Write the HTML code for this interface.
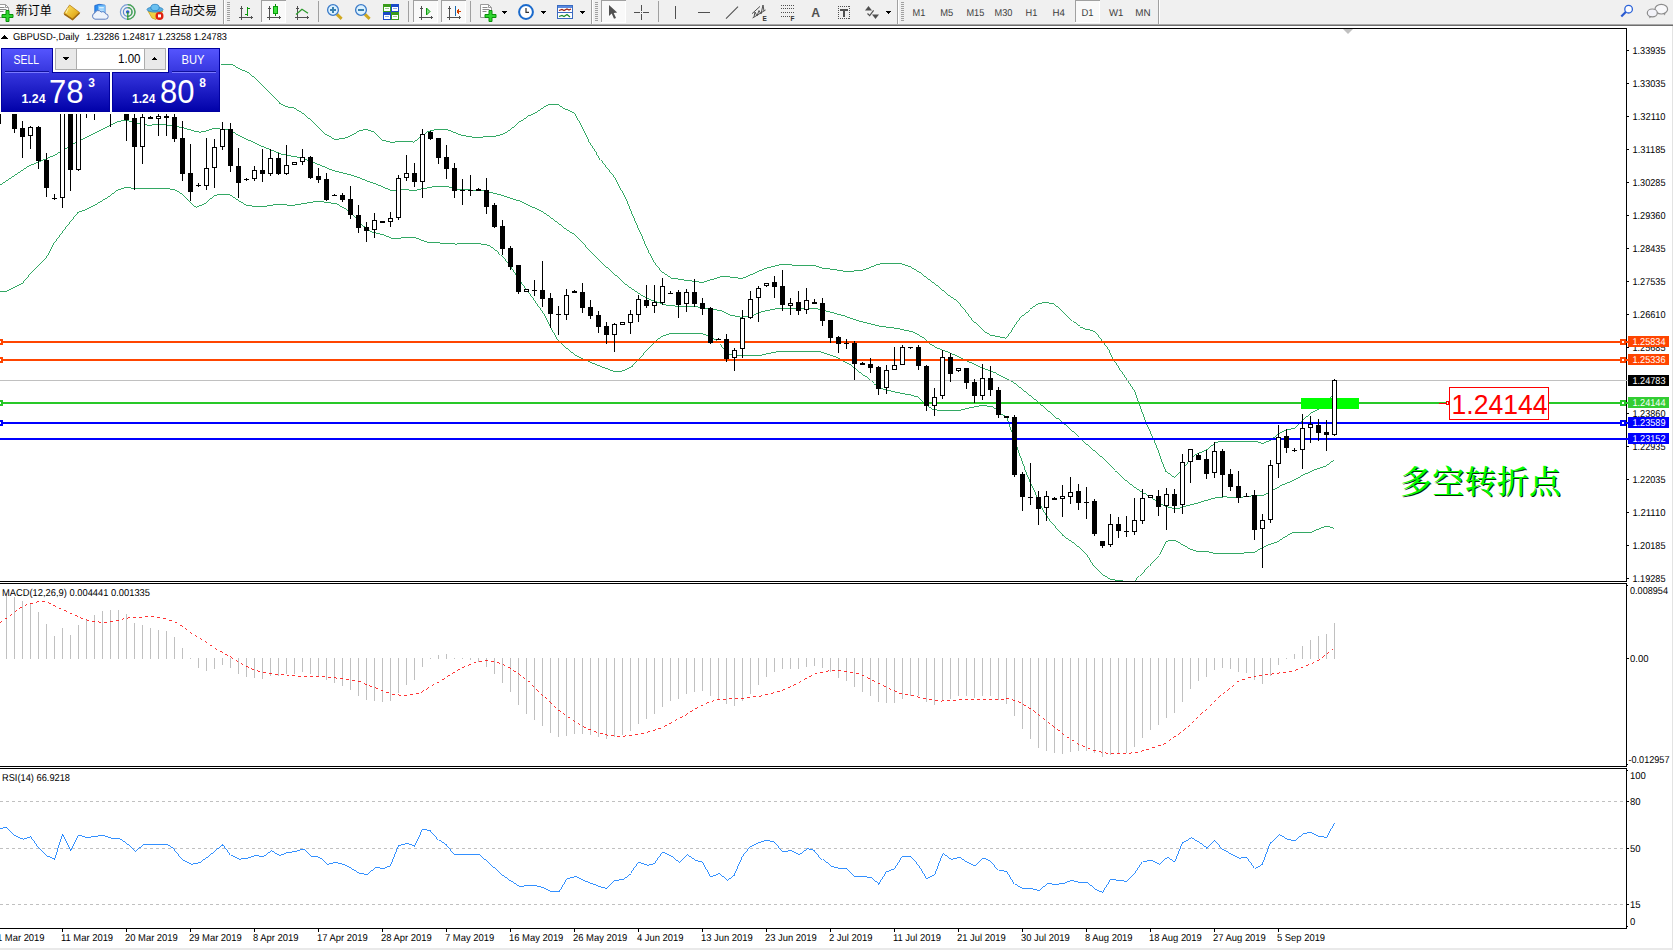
<!DOCTYPE html>
<html lang="zh"><head><meta charset="utf-8"><title>GBPUSD-,Daily</title>
<style>html,body{margin:0;padding:0;background:#fff;overflow:hidden}body{width:1673px;height:950px;position:relative;font-family:"Liberation Sans", "Noto Sans CJK SC", sans-serif}svg{position:absolute;left:0;top:0;display:block}text{font-family:"Liberation Sans", "Noto Sans CJK SC", sans-serif}.c{shape-rendering:crispEdges}.ax{font-size:10px;fill:#000;text-rendering:geometricPrecision}.tb{font-size:10px;fill:#3c3c3c;text-rendering:geometricPrecision}</style></head><body>
<svg width="1673" height="950" viewBox="0 0 1673 950">
<defs>
<linearGradient id="pg" x1="0" y1="48" x2="0" y2="112" gradientUnits="userSpaceOnUse"><stop offset="0" stop-color="#5656ff"/><stop offset="0.38" stop-color="#3636de"/><stop offset="1" stop-color="#0000a8"/></linearGradient>
<clipPath id="cm"><rect x="0" y="29" width="1626" height="552"/></clipPath>
<clipPath id="cd"><rect x="0" y="929" width="1672" height="19"/></clipPath>
</defs>
<rect width="1673" height="950" fill="#fff"/>
<g class="c" clip-path="url(#cm)">
<polyline fill="none" stroke="#00923d" stroke-width="0.8"  points="220.0,64.0 231.0,64.0 240.0,69.0 249.0,73.0 257.0,80.0 266.0,89.0 275.0,98.0 280.0,103.5 287.5,107.0 295.0,108.5 303.0,113.5 312.0,121.0 319.0,128.0 326.0,134.5 335.0,139.5 343.5,138.3 352.0,135.0 359.0,131.0 366.0,129.3 374.0,131.8 382.0,140.0 391.0,142.3 407.0,141.0 414.0,142.2 421.0,136.5 428.0,131.5 436.6,129.3 448.0,129.8 461.0,135.1 475.3,137.5 490.0,136.6 496.0,136.0 502.6,134.3 509.4,130.5 515.3,125.5 519.5,121.4 527.1,116.6 536.3,112.4 543.9,107.1 549.8,104.4 558.2,104.4 564.1,108.6 573.4,112.4 575.5,114.5 579.3,121.3 584.4,132.2 589.4,142.3 596.2,152.5 600.8,159.9 614.5,177.4 626.0,199.0 636.0,223.3 642.0,236.0 644.2,241.7 649.3,253.2 655.0,263.3 662.0,272.0 671.0,278.0 684.0,280.0 694.0,281.2 702.0,282.6 711.0,279.8 722.0,276.5 732.0,277.1 742.0,278.5 750.7,274.9 765.0,268.5 779.4,264.9 813.8,265.2 822.4,268.0 836.8,269.9 846.8,271.8 864.0,269.9 877.0,264.6 885.6,263.1 899.9,263.4 908.5,266.3 922.9,274.9 937.2,285.7 950.0,296.3 957.1,300.9 965.3,310.6 974.5,322.9 982.7,330.5 990.8,335.3 999.0,336.7 1006.2,338.4 1011.3,331.1 1016.4,322.9 1022.5,315.2 1029.6,309.6 1037.8,304.0 1045.0,302.3 1053.1,303.7 1060.3,309.1 1067.4,316.2 1072.5,321.4 1079.7,326.8 1086.8,329.5 1092.9,330.5 1097.0,334.1 1103.2,342.3 1109.3,350.5 1114.4,360.7 1119.5,368.8 1126.3,378.7 1135.0,391.6 1139.3,404.6 1146.4,423.2 1154.0,440.4 1156.4,446.0 1160.7,457.5 1166.4,471.8 1174.3,477.3 1179.3,472.5 1186.5,464.7 1190.0,458.4 1197.2,453.6 1205.6,450.6 1215.8,442.4 1221.2,441.4 1256.0,441.4 1262.6,443.6 1270.4,440.4 1278.8,433.8 1286.0,430.2 1294.4,428.2 1304.0,419.0 1311.6,412.5 1319.2,408.9 1331.8,396.1 1334.0,395.0"/>
<polyline fill="none" stroke="#00923d" stroke-width="0.8"  points="0.0,185.0 29.0,166.0 55.0,155.0 75.0,143.0 110.0,125.6 118.0,121.5 126.0,120.2 138.7,123.5 148.4,125.3 159.5,124.4 173.4,125.8 184.4,128.1 196.0,131.6 200.0,132.2 207.0,130.7 213.6,128.3 222.0,129.3 230.0,130.0 237.6,135.0 260.6,145.7 282.0,154.3 302.0,157.9 315.0,163.0 333.7,170.8 353.8,175.8 372.5,183.0 389.7,190.2 397.0,190.2 402.6,189.2 414.0,190.6 425.5,188.0 436.0,186.0 446.7,186.3 456.7,189.2 485.4,191.0 499.7,194.6 519.8,201.1 542.8,211.8 557.1,222.2 567.2,230.2 574.3,234.1 583.0,242.7 587.6,248.9 599.0,260.4 612.0,271.9 626.3,284.8 640.7,294.8 652.1,300.3 666.5,305.3 680.8,306.6 698.0,307.0 712.4,309.2 722.0,310.8 730.6,315.1 740.7,317.2 750.7,316.5 762.2,311.5 779.4,308.2 815.3,308.2 828.2,311.5 844.0,315.8 858.3,320.8 879.8,326.3 897.0,328.3 912.8,332.0 922.9,337.3 930.0,343.8 937.2,348.1 949.9,352.9 964.2,359.4 978.6,366.5 994.3,372.3 1014.4,383.0 1036.0,400.3 1057.5,418.9 1079.0,437.6 1100.5,456.2 1114.8,470.4 1129.1,483.3 1143.5,493.3 1157.8,502.7 1169.3,507.7 1176.5,508.7 1186.5,505.5 1200.9,502.0 1215.2,497.9 1223.8,496.9 1240.4,497.4 1253.6,495.6 1263.2,495.3 1274.0,489.6 1282.4,484.8 1292.0,481.2 1304.0,474.6 1316.0,469.2 1325.6,466.2 1334.0,460.2"/>
<polyline fill="none" stroke="#00923d" stroke-width="0.8"  points="0.0,291.6 6.6,291.4 22.8,283.0 26.4,278.2 42.0,262.0 48.0,255.4 54.0,243.4 62.4,232.0 72.0,220.0 78.0,212.4 84.0,210.4 96.0,204.4 108.0,197.2 117.6,190.0 126.0,187.4 135.0,188.5 150.0,188.3 168.0,188.5 175.2,190.0 182.4,194.2 187.2,199.6 192.0,203.8 196.0,207.4 206.0,203.1 214.6,195.2 229.0,194.2 237.6,199.8 246.2,205.3 260.6,207.0 276.3,204.5 293.6,205.3 318.0,201.2 336.6,203.8 348.0,210.3 355.2,216.7 362.4,225.3 372.5,232.5 382.5,234.7 391.1,238.5 414.0,237.3 428.4,242.6 442.3,243.1 456.7,244.1 463.9,243.1 482.5,244.1 490.0,246.0 498.6,252.5 507.2,261.8 521.6,283.3 531.6,296.3 544.5,314.9 551.7,329.3 557.4,339.3 564.6,346.5 576.1,355.8 590.4,362.3 604.8,368.0 614.8,371.6 623.4,370.9 632.0,366.6 639.2,358.7 647.8,349.3 656.4,340.4 662.2,336.4 669.3,333.8 702.3,333.6 709.5,336.4 719.6,343.6 722.0,346.6 727.7,353.8 736.3,355.5 759.3,355.5 779.4,351.2 819.6,351.7 836.8,357.4 851.1,365.3 865.5,376.8 874.1,383.9 879.8,388.3 894.2,391.8 908.5,394.7 918.3,397.4 924.0,403.1 932.7,409.6 942.7,410.6 960.0,410.3 971.4,407.4 982.9,405.3 991.5,406.7 1000.0,413.2 1007.3,417.5 1011.6,430.4 1017.3,448.3 1024.4,467.5 1033.0,487.6 1041.6,507.7 1048.8,519.2 1063.1,535.7 1074.6,543.6 1086.1,553.6 1093.4,565.7 1103.1,575.1 1109.0,578.3 1110.7,579.5 1115.0,579.5 1115.3,580.5 1122.8,580.5 1123.0,583.0 1134.5,583.0 1134.9,580.8 1139.2,575.9 1144.5,570.5 1148.9,565.7 1157.5,556.5 1159.3,555.0 1166.4,541.4 1173.6,540.0 1180.8,543.6 1190.0,549.0 1197.2,551.4 1208.0,551.6 1214.0,553.4 1241.6,553.2 1254.8,552.0 1262.0,547.8 1268.0,544.8 1277.6,541.8 1286.0,536.4 1293.2,532.4 1311.2,532.2 1319.6,528.6 1326.8,526.0 1334.0,528.4"/>
<rect x="0" y="380" width="1626" height="1" fill="#c0c0c0"/>
<rect x="0" y="341" width="1627" height="2" fill="#ff4500"/><rect x="-3" y="339" width="6" height="6" fill="#ff4500"/><rect x="-1" y="341" width="2" height="2" fill="#fff"/><rect x="1620" y="339" width="6" height="6" fill="#ff4500"/><rect x="1622" y="341" width="2" height="2" fill="#fff"/>
<rect x="0" y="359" width="1627" height="2" fill="#ff4500"/><rect x="-3" y="357" width="6" height="6" fill="#ff4500"/><rect x="-1" y="359" width="2" height="2" fill="#fff"/><rect x="1620" y="357" width="6" height="6" fill="#ff4500"/><rect x="1622" y="359" width="2" height="2" fill="#fff"/>
<rect x="0" y="402" width="1627" height="2" fill="#28c828"/><rect x="-3" y="400" width="6" height="6" fill="#28c828"/><rect x="-1" y="402" width="2" height="2" fill="#fff"/><rect x="1620" y="400" width="6" height="6" fill="#28c828"/><rect x="1622" y="402" width="2" height="2" fill="#fff"/>
<rect x="0" y="422" width="1627" height="2" fill="#0000ff"/><rect x="-3" y="420" width="6" height="6" fill="#0000ff"/><rect x="-1" y="422" width="2" height="2" fill="#fff"/><rect x="1620" y="420" width="6" height="6" fill="#0000ff"/><rect x="1622" y="422" width="2" height="2" fill="#fff"/>
<rect x="0" y="438" width="1627" height="2" fill="#0000ff"/>
<rect x="1301" y="398" width="58" height="11" fill="#00ff00"/>
<rect x="-2" y="100" width="1" height="24" fill="#000"/>
<rect x="-4" y="100" width="5" height="24" fill="#000"/>
<rect x="14" y="100" width="1" height="33" fill="#000"/>
<rect x="12" y="100" width="5" height="29" fill="#000"/>
<rect x="22" y="121" width="1" height="37" fill="#000"/>
<rect x="20" y="128" width="5" height="9" fill="#000"/>
<rect x="30" y="126" width="1" height="23" fill="#000"/>
<rect x="28.5" y="127.5" width="4" height="8" fill="#fff" stroke="#000" stroke-width="1"/>
<rect x="38" y="126" width="1" height="43" fill="#000"/>
<rect x="36" y="127" width="5" height="34" fill="#000"/>
<rect x="46" y="153" width="1" height="44" fill="#000"/>
<rect x="44" y="160" width="5" height="28" fill="#000"/>
<rect x="54" y="194" width="1" height="6" fill="#000"/>
<rect x="52" y="198" width="5" height="1" fill="#000"/>
<rect x="62" y="100" width="1" height="108" fill="#000"/>
<rect x="60.5" y="100.5" width="4" height="97" fill="#fff" stroke="#000" stroke-width="1"/>
<rect x="70" y="100" width="1" height="91" fill="#000"/>
<rect x="68" y="100" width="5" height="70" fill="#000"/>
<rect x="78" y="100" width="1" height="71" fill="#000"/>
<rect x="76.5" y="100.5" width="4" height="69" fill="#fff" stroke="#000" stroke-width="1"/>
<rect x="86" y="100" width="1" height="18" fill="#000"/>
<rect x="94" y="100" width="1" height="20" fill="#000"/>
<rect x="110" y="100" width="1" height="27" fill="#000"/>
<rect x="126" y="100" width="1" height="41" fill="#000"/>
<rect x="124" y="100" width="5" height="20" fill="#000"/>
<rect x="134" y="100" width="1" height="90" fill="#000"/>
<rect x="132" y="118" width="5" height="29" fill="#000"/>
<rect x="142" y="100" width="1" height="64" fill="#000"/>
<rect x="140.5" y="117.5" width="4" height="29" fill="#fff" stroke="#000" stroke-width="1"/>
<rect x="150" y="116" width="1" height="3" fill="#000"/>
<rect x="148" y="117" width="5" height="2" fill="#000"/>
<rect x="158" y="100" width="1" height="36" fill="#000"/>
<rect x="156.5" y="116.5" width="4" height="2" fill="#fff" stroke="#000" stroke-width="1"/>
<rect x="166" y="100" width="1" height="36" fill="#000"/>
<rect x="164" y="116" width="5" height="2" fill="#000"/>
<rect x="174" y="100" width="1" height="42" fill="#000"/>
<rect x="172" y="117" width="5" height="22" fill="#000"/>
<rect x="182" y="121" width="1" height="60" fill="#000"/>
<rect x="180" y="138" width="5" height="36" fill="#000"/>
<rect x="190" y="144" width="1" height="57" fill="#000"/>
<rect x="188" y="173" width="5" height="19" fill="#000"/>
<rect x="198" y="183" width="1" height="4" fill="#000"/>
<rect x="196" y="185" width="5" height="1" fill="#000"/>
<rect x="206" y="138" width="1" height="52" fill="#000"/>
<rect x="204.5" y="168.5" width="4" height="17" fill="#fff" stroke="#000" stroke-width="1"/>
<rect x="214" y="139" width="1" height="49" fill="#000"/>
<rect x="212.5" y="147.5" width="4" height="20" fill="#fff" stroke="#000" stroke-width="1"/>
<rect x="222" y="122" width="1" height="28" fill="#000"/>
<rect x="220.5" y="129.5" width="4" height="17" fill="#fff" stroke="#000" stroke-width="1"/>
<rect x="230" y="123" width="1" height="49" fill="#000"/>
<rect x="228" y="129" width="5" height="37" fill="#000"/>
<rect x="238" y="148" width="1" height="50" fill="#000"/>
<rect x="236" y="166" width="5" height="17" fill="#000"/>
<rect x="246" y="178" width="1" height="3" fill="#000"/>
<rect x="244" y="179" width="5" height="1" fill="#000"/>
<rect x="254" y="166" width="1" height="15" fill="#000"/>
<rect x="252.5" y="170.5" width="4" height="8" fill="#fff" stroke="#000" stroke-width="1"/>
<rect x="262" y="149" width="1" height="33" fill="#000"/>
<rect x="260" y="170" width="5" height="4" fill="#000"/>
<rect x="270" y="149" width="1" height="27" fill="#000"/>
<rect x="268.5" y="158.5" width="4" height="15" fill="#fff" stroke="#000" stroke-width="1"/>
<rect x="278" y="153" width="1" height="22" fill="#000"/>
<rect x="276" y="158" width="5" height="16" fill="#000"/>
<rect x="286" y="145" width="1" height="30" fill="#000"/>
<rect x="284.5" y="165.5" width="4" height="8" fill="#fff" stroke="#000" stroke-width="1"/>
<rect x="294" y="162" width="1" height="2" fill="#000"/>
<rect x="292.5" y="162.5" width="4" height="2" fill="#fff" stroke="#000" stroke-width="1"/>
<rect x="302" y="149" width="1" height="16" fill="#000"/>
<rect x="300.5" y="157.5" width="4" height="4" fill="#fff" stroke="#000" stroke-width="1"/>
<rect x="310" y="156" width="1" height="23" fill="#000"/>
<rect x="308" y="157" width="5" height="21" fill="#000"/>
<rect x="318" y="168" width="1" height="15" fill="#000"/>
<rect x="316" y="176" width="5" height="4" fill="#000"/>
<rect x="326" y="173" width="1" height="28" fill="#000"/>
<rect x="324" y="179" width="5" height="21" fill="#000"/>
<rect x="334" y="194" width="1" height="1" fill="#000"/>
<rect x="332" y="195" width="5" height="1" fill="#000"/>
<rect x="342" y="193" width="1" height="9" fill="#000"/>
<rect x="340" y="195" width="5" height="5" fill="#000"/>
<rect x="350" y="186" width="1" height="33" fill="#000"/>
<rect x="348" y="199" width="5" height="16" fill="#000"/>
<rect x="358" y="205" width="1" height="28" fill="#000"/>
<rect x="356" y="215" width="5" height="13" fill="#000"/>
<rect x="366" y="222" width="1" height="20" fill="#000"/>
<rect x="364" y="227" width="5" height="4" fill="#000"/>
<rect x="374" y="213" width="1" height="25" fill="#000"/>
<rect x="372.5" y="220.5" width="4" height="9" fill="#fff" stroke="#000" stroke-width="1"/>
<rect x="382" y="221" width="1" height="2" fill="#000"/>
<rect x="380" y="221" width="5" height="2" fill="#000"/>
<rect x="390" y="212" width="1" height="15" fill="#000"/>
<rect x="388.5" y="218.5" width="4" height="3" fill="#fff" stroke="#000" stroke-width="1"/>
<rect x="398" y="175" width="1" height="45" fill="#000"/>
<rect x="396.5" y="178.5" width="4" height="39" fill="#fff" stroke="#000" stroke-width="1"/>
<rect x="406" y="155" width="1" height="26" fill="#000"/>
<rect x="404.5" y="173.5" width="4" height="4" fill="#fff" stroke="#000" stroke-width="1"/>
<rect x="414" y="163" width="1" height="24" fill="#000"/>
<rect x="412" y="173" width="5" height="9" fill="#000"/>
<rect x="422" y="129" width="1" height="69" fill="#000"/>
<rect x="420.5" y="134.5" width="4" height="47" fill="#fff" stroke="#000" stroke-width="1"/>
<rect x="430" y="131" width="1" height="9" fill="#000"/>
<rect x="428" y="132" width="5" height="7" fill="#000"/>
<rect x="438" y="138" width="1" height="26" fill="#000"/>
<rect x="436" y="138" width="5" height="20" fill="#000"/>
<rect x="446" y="145" width="1" height="34" fill="#000"/>
<rect x="444" y="157" width="5" height="12" fill="#000"/>
<rect x="454" y="163" width="1" height="35" fill="#000"/>
<rect x="452" y="168" width="5" height="23" fill="#000"/>
<rect x="462" y="179" width="1" height="26" fill="#000"/>
<rect x="460" y="190" width="5" height="1" fill="#000"/>
<rect x="470" y="175" width="1" height="21" fill="#000"/>
<rect x="468" y="190" width="5" height="1" fill="#000"/>
<rect x="478" y="188" width="1" height="3" fill="#000"/>
<rect x="476" y="189" width="5" height="2" fill="#000"/>
<rect x="486" y="178" width="1" height="36" fill="#000"/>
<rect x="484" y="190" width="5" height="17" fill="#000"/>
<rect x="494" y="203" width="1" height="25" fill="#000"/>
<rect x="492" y="205" width="5" height="22" fill="#000"/>
<rect x="502" y="220" width="1" height="35" fill="#000"/>
<rect x="500" y="226" width="5" height="23" fill="#000"/>
<rect x="510" y="246" width="1" height="24" fill="#000"/>
<rect x="508" y="248" width="5" height="19" fill="#000"/>
<rect x="518" y="265" width="1" height="29" fill="#000"/>
<rect x="516" y="265" width="5" height="27" fill="#000"/>
<rect x="526" y="289" width="1" height="3" fill="#000"/>
<rect x="524.5" y="289.5" width="4" height="2" fill="#fff" stroke="#000" stroke-width="1"/>
<rect x="534" y="280" width="1" height="16" fill="#000"/>
<rect x="532" y="290" width="5" height="1" fill="#000"/>
<rect x="542" y="261" width="1" height="46" fill="#000"/>
<rect x="540" y="290" width="5" height="9" fill="#000"/>
<rect x="550" y="293" width="1" height="35" fill="#000"/>
<rect x="548" y="298" width="5" height="16" fill="#000"/>
<rect x="558" y="306" width="1" height="29" fill="#000"/>
<rect x="556" y="314" width="5" height="1" fill="#000"/>
<rect x="566" y="289" width="1" height="31" fill="#000"/>
<rect x="564.5" y="295.5" width="4" height="19" fill="#fff" stroke="#000" stroke-width="1"/>
<rect x="574" y="290" width="1" height="3" fill="#000"/>
<rect x="572" y="291" width="5" height="2" fill="#000"/>
<rect x="582" y="283" width="1" height="30" fill="#000"/>
<rect x="580" y="292" width="5" height="16" fill="#000"/>
<rect x="590" y="300" width="1" height="19" fill="#000"/>
<rect x="588" y="307" width="5" height="9" fill="#000"/>
<rect x="598" y="311" width="1" height="22" fill="#000"/>
<rect x="596" y="315" width="5" height="12" fill="#000"/>
<rect x="606" y="322" width="1" height="22" fill="#000"/>
<rect x="604" y="326" width="5" height="9" fill="#000"/>
<rect x="614" y="323" width="1" height="29" fill="#000"/>
<rect x="612.5" y="324.5" width="4" height="10" fill="#fff" stroke="#000" stroke-width="1"/>
<rect x="622" y="322" width="1" height="2" fill="#000"/>
<rect x="620.5" y="322.5" width="4" height="2" fill="#fff" stroke="#000" stroke-width="1"/>
<rect x="630" y="310" width="1" height="24" fill="#000"/>
<rect x="628.5" y="314.5" width="4" height="8" fill="#fff" stroke="#000" stroke-width="1"/>
<rect x="638" y="295" width="1" height="27" fill="#000"/>
<rect x="636.5" y="299.5" width="4" height="15" fill="#fff" stroke="#000" stroke-width="1"/>
<rect x="646" y="285" width="1" height="23" fill="#000"/>
<rect x="644" y="300" width="5" height="6" fill="#000"/>
<rect x="654" y="285" width="1" height="28" fill="#000"/>
<rect x="652.5" y="302.5" width="4" height="3" fill="#fff" stroke="#000" stroke-width="1"/>
<rect x="662" y="278" width="1" height="27" fill="#000"/>
<rect x="660.5" y="286.5" width="4" height="16" fill="#fff" stroke="#000" stroke-width="1"/>
<rect x="670" y="291" width="1" height="3" fill="#000"/>
<rect x="668" y="293" width="5" height="1" fill="#000"/>
<rect x="678" y="290" width="1" height="28" fill="#000"/>
<rect x="676" y="292" width="5" height="13" fill="#000"/>
<rect x="686" y="289" width="1" height="23" fill="#000"/>
<rect x="684.5" y="292.5" width="4" height="11" fill="#fff" stroke="#000" stroke-width="1"/>
<rect x="694" y="279" width="1" height="28" fill="#000"/>
<rect x="692" y="292" width="5" height="12" fill="#000"/>
<rect x="702" y="298" width="1" height="17" fill="#000"/>
<rect x="700" y="303" width="5" height="6" fill="#000"/>
<rect x="710" y="307" width="1" height="37" fill="#000"/>
<rect x="708" y="308" width="5" height="35" fill="#000"/>
<rect x="718" y="338" width="1" height="1" fill="#000"/>
<rect x="716" y="339" width="5" height="1" fill="#000"/>
<rect x="726" y="334" width="1" height="28" fill="#000"/>
<rect x="724" y="339" width="5" height="20" fill="#000"/>
<rect x="734" y="348" width="1" height="23" fill="#000"/>
<rect x="732.5" y="350.5" width="4" height="7" fill="#fff" stroke="#000" stroke-width="1"/>
<rect x="742" y="310" width="1" height="48" fill="#000"/>
<rect x="740.5" y="318.5" width="4" height="30" fill="#fff" stroke="#000" stroke-width="1"/>
<rect x="750" y="291" width="1" height="28" fill="#000"/>
<rect x="748.5" y="299.5" width="4" height="18" fill="#fff" stroke="#000" stroke-width="1"/>
<rect x="758" y="286" width="1" height="36" fill="#000"/>
<rect x="756.5" y="288.5" width="4" height="9" fill="#fff" stroke="#000" stroke-width="1"/>
<rect x="766" y="283" width="1" height="4" fill="#000"/>
<rect x="764.5" y="283.5" width="4" height="2" fill="#fff" stroke="#000" stroke-width="1"/>
<rect x="774" y="276" width="1" height="22" fill="#000"/>
<rect x="772" y="282" width="5" height="5" fill="#000"/>
<rect x="782" y="270" width="1" height="41" fill="#000"/>
<rect x="780" y="286" width="5" height="19" fill="#000"/>
<rect x="790" y="298" width="1" height="17" fill="#000"/>
<rect x="788.5" y="303.5" width="4" height="2" fill="#fff" stroke="#000" stroke-width="1"/>
<rect x="798" y="291" width="1" height="24" fill="#000"/>
<rect x="796" y="302" width="5" height="9" fill="#000"/>
<rect x="806" y="288" width="1" height="26" fill="#000"/>
<rect x="804.5" y="300.5" width="4" height="9" fill="#fff" stroke="#000" stroke-width="1"/>
<rect x="814" y="299" width="1" height="5" fill="#000"/>
<rect x="812" y="302" width="5" height="2" fill="#000"/>
<rect x="822" y="298" width="1" height="28" fill="#000"/>
<rect x="820" y="303" width="5" height="18" fill="#000"/>
<rect x="830" y="320" width="1" height="23" fill="#000"/>
<rect x="828" y="320" width="5" height="18" fill="#000"/>
<rect x="838" y="336" width="1" height="17" fill="#000"/>
<rect x="836" y="337" width="5" height="7" fill="#000"/>
<rect x="846" y="339" width="1" height="10" fill="#000"/>
<rect x="844" y="343" width="5" height="1" fill="#000"/>
<rect x="854" y="341" width="1" height="39" fill="#000"/>
<rect x="852" y="343" width="5" height="21" fill="#000"/>
<rect x="862" y="362" width="1" height="3" fill="#000"/>
<rect x="860" y="363" width="5" height="2" fill="#000"/>
<rect x="870" y="358" width="1" height="15" fill="#000"/>
<rect x="868" y="364" width="5" height="4" fill="#000"/>
<rect x="878" y="366" width="1" height="29" fill="#000"/>
<rect x="876" y="367" width="5" height="22" fill="#000"/>
<rect x="886" y="365" width="1" height="29" fill="#000"/>
<rect x="884.5" y="370.5" width="4" height="17" fill="#fff" stroke="#000" stroke-width="1"/>
<rect x="894" y="347" width="1" height="23" fill="#000"/>
<rect x="892.5" y="365.5" width="4" height="4" fill="#fff" stroke="#000" stroke-width="1"/>
<rect x="902" y="345" width="1" height="20" fill="#000"/>
<rect x="900.5" y="347.5" width="4" height="17" fill="#fff" stroke="#000" stroke-width="1"/>
<rect x="910" y="347" width="1" height="2" fill="#000"/>
<rect x="908" y="347" width="5" height="1" fill="#000"/>
<rect x="918" y="345" width="1" height="25" fill="#000"/>
<rect x="916" y="347" width="5" height="19" fill="#000"/>
<rect x="926" y="365" width="1" height="46" fill="#000"/>
<rect x="924" y="366" width="5" height="40" fill="#000"/>
<rect x="934" y="388" width="1" height="28" fill="#000"/>
<rect x="932.5" y="397.5" width="4" height="8" fill="#fff" stroke="#000" stroke-width="1"/>
<rect x="942" y="350" width="1" height="49" fill="#000"/>
<rect x="940.5" y="357.5" width="4" height="38" fill="#fff" stroke="#000" stroke-width="1"/>
<rect x="950" y="353" width="1" height="29" fill="#000"/>
<rect x="948" y="357" width="5" height="17" fill="#000"/>
<rect x="958" y="368" width="1" height="4" fill="#000"/>
<rect x="956.5" y="368.5" width="4" height="2" fill="#fff" stroke="#000" stroke-width="1"/>
<rect x="966" y="368" width="1" height="21" fill="#000"/>
<rect x="964" y="368" width="5" height="15" fill="#000"/>
<rect x="974" y="379" width="1" height="24" fill="#000"/>
<rect x="972" y="382" width="5" height="14" fill="#000"/>
<rect x="982" y="364" width="1" height="36" fill="#000"/>
<rect x="980.5" y="378.5" width="4" height="17" fill="#fff" stroke="#000" stroke-width="1"/>
<rect x="990" y="366" width="1" height="30" fill="#000"/>
<rect x="988" y="378" width="5" height="12" fill="#000"/>
<rect x="998" y="387" width="1" height="31" fill="#000"/>
<rect x="996" y="390" width="5" height="25" fill="#000"/>
<rect x="1006" y="416" width="1" height="2" fill="#000"/>
<rect x="1004" y="416" width="5" height="2" fill="#000"/>
<rect x="1014" y="415" width="1" height="62" fill="#000"/>
<rect x="1012" y="417" width="5" height="58" fill="#000"/>
<rect x="1022" y="472" width="1" height="39" fill="#000"/>
<rect x="1020" y="474" width="5" height="23" fill="#000"/>
<rect x="1030" y="463" width="1" height="42" fill="#000"/>
<rect x="1028" y="497" width="5" height="1" fill="#000"/>
<rect x="1038" y="491" width="1" height="34" fill="#000"/>
<rect x="1036" y="497" width="5" height="12" fill="#000"/>
<rect x="1046" y="491" width="1" height="30" fill="#000"/>
<rect x="1044.5" y="496.5" width="4" height="11" fill="#fff" stroke="#000" stroke-width="1"/>
<rect x="1054" y="497" width="1" height="3" fill="#000"/>
<rect x="1052" y="498" width="5" height="2" fill="#000"/>
<rect x="1062" y="485" width="1" height="32" fill="#000"/>
<rect x="1060.5" y="496.5" width="4" height="2" fill="#fff" stroke="#000" stroke-width="1"/>
<rect x="1070" y="477" width="1" height="27" fill="#000"/>
<rect x="1068.5" y="492.5" width="4" height="4" fill="#fff" stroke="#000" stroke-width="1"/>
<rect x="1078" y="484" width="1" height="26" fill="#000"/>
<rect x="1076" y="491" width="5" height="12" fill="#000"/>
<rect x="1086" y="487" width="1" height="32" fill="#000"/>
<rect x="1084" y="502" width="5" height="1" fill="#000"/>
<rect x="1094" y="499" width="1" height="37" fill="#000"/>
<rect x="1092" y="501" width="5" height="33" fill="#000"/>
<rect x="1102" y="541" width="1" height="7" fill="#000"/>
<rect x="1100" y="541" width="5" height="5" fill="#000"/>
<rect x="1110" y="514" width="1" height="33" fill="#000"/>
<rect x="1108.5" y="524.5" width="4" height="20" fill="#fff" stroke="#000" stroke-width="1"/>
<rect x="1118" y="517" width="1" height="21" fill="#000"/>
<rect x="1116" y="524" width="5" height="7" fill="#000"/>
<rect x="1126" y="516" width="1" height="21" fill="#000"/>
<rect x="1124" y="531" width="5" height="1" fill="#000"/>
<rect x="1134" y="498" width="1" height="37" fill="#000"/>
<rect x="1132.5" y="520.5" width="4" height="11" fill="#fff" stroke="#000" stroke-width="1"/>
<rect x="1142" y="489" width="1" height="35" fill="#000"/>
<rect x="1140.5" y="498.5" width="4" height="22" fill="#fff" stroke="#000" stroke-width="1"/>
<rect x="1150" y="495" width="1" height="2" fill="#000"/>
<rect x="1148.5" y="495.5" width="4" height="2" fill="#fff" stroke="#000" stroke-width="1"/>
<rect x="1158" y="490" width="1" height="26" fill="#000"/>
<rect x="1156" y="496" width="5" height="11" fill="#000"/>
<rect x="1166" y="488" width="1" height="42" fill="#000"/>
<rect x="1164.5" y="494.5" width="4" height="11" fill="#fff" stroke="#000" stroke-width="1"/>
<rect x="1174" y="489" width="1" height="24" fill="#000"/>
<rect x="1172" y="494" width="5" height="12" fill="#000"/>
<rect x="1182" y="454" width="1" height="60" fill="#000"/>
<rect x="1180.5" y="462.5" width="4" height="42" fill="#fff" stroke="#000" stroke-width="1"/>
<rect x="1190" y="449" width="1" height="34" fill="#000"/>
<rect x="1188.5" y="449.5" width="4" height="12" fill="#fff" stroke="#000" stroke-width="1"/>
<rect x="1198" y="453" width="1" height="7" fill="#000"/>
<rect x="1196" y="455" width="5" height="5" fill="#000"/>
<rect x="1206" y="450" width="1" height="29" fill="#000"/>
<rect x="1204" y="459" width="5" height="15" fill="#000"/>
<rect x="1214" y="442" width="1" height="36" fill="#000"/>
<rect x="1212.5" y="451.5" width="4" height="21" fill="#fff" stroke="#000" stroke-width="1"/>
<rect x="1222" y="449" width="1" height="48" fill="#000"/>
<rect x="1220" y="451" width="5" height="24" fill="#000"/>
<rect x="1230" y="469" width="1" height="22" fill="#000"/>
<rect x="1228" y="474" width="5" height="13" fill="#000"/>
<rect x="1238" y="471" width="1" height="32" fill="#000"/>
<rect x="1236" y="486" width="5" height="12" fill="#000"/>
<rect x="1246" y="493" width="1" height="4" fill="#000"/>
<rect x="1244" y="496" width="5" height="1" fill="#000"/>
<rect x="1254" y="490" width="1" height="50" fill="#000"/>
<rect x="1252" y="495" width="5" height="35" fill="#000"/>
<rect x="1262" y="514" width="1" height="54" fill="#000"/>
<rect x="1260.5" y="520.5" width="4" height="8" fill="#fff" stroke="#000" stroke-width="1"/>
<rect x="1270" y="460" width="1" height="63" fill="#000"/>
<rect x="1268.5" y="465.5" width="4" height="54" fill="#fff" stroke="#000" stroke-width="1"/>
<rect x="1278" y="425" width="1" height="53" fill="#000"/>
<rect x="1276.5" y="437.5" width="4" height="26" fill="#fff" stroke="#000" stroke-width="1"/>
<rect x="1286" y="429" width="1" height="24" fill="#000"/>
<rect x="1284" y="436" width="5" height="12" fill="#000"/>
<rect x="1294" y="448" width="1" height="4" fill="#000"/>
<rect x="1292" y="450" width="5" height="1" fill="#000"/>
<rect x="1302" y="414" width="1" height="55" fill="#000"/>
<rect x="1300.5" y="428.5" width="4" height="21" fill="#fff" stroke="#000" stroke-width="1"/>
<rect x="1310" y="416" width="1" height="27" fill="#000"/>
<rect x="1308.5" y="424.5" width="4" height="3" fill="#fff" stroke="#000" stroke-width="1"/>
<rect x="1318" y="419" width="1" height="22" fill="#000"/>
<rect x="1316" y="425" width="5" height="8" fill="#000"/>
<rect x="1326" y="420" width="1" height="31" fill="#000"/>
<rect x="1324" y="432" width="5" height="3" fill="#000"/>
<rect x="1334" y="379" width="1" height="57" fill="#000"/>
<rect x="1332.5" y="380.5" width="4" height="54" fill="#fff" stroke="#000" stroke-width="1"/>
</g>
<g class="c"><rect x="1439" y="403" width="8" height="1" fill="#f00"/><rect x="1446" y="401" width="3" height="4" fill="#f00"/><rect x="1447" y="402" width="1" height="2" fill="#fff"/><rect x="1449.5" y="387.5" width="99" height="32" fill="#fff" stroke="#f00" stroke-width="1"/></g>
<text x="1451.6" y="414" font-size="27.2px" fill="#f00" textLength="96" lengthAdjust="spacingAndGlyphs">1.24144</text>
<text x="1401" y="493.5" font-size="32px" fill="#0a2a0a" style="font-family:'Noto Serif CJK SC','Noto Sans CJK SC',serif;font-weight:500" textLength="161" lengthAdjust="spacing">多空转折点</text>
<text x="1400" y="492.5" font-size="32px" fill="#00ff00" style="font-family:'Noto Serif CJK SC','Noto Sans CJK SC',serif;font-weight:500" textLength="161" lengthAdjust="spacing">多空转折点</text>
<g class="c" fill="#000">
<rect x="0" y="28" width="1627" height="1"/>
<rect x="1626" y="28" width="1" height="554"/>
<rect x="0" y="581" width="1627" height="1"/>
<rect x="0" y="583" width="1627" height="1"/>
<rect x="1626" y="583" width="1" height="184"/>
<rect x="0" y="766" width="1627" height="1"/>
<rect x="0" y="768" width="1627" height="1"/>
<rect x="1626" y="768" width="1" height="161"/>
<rect x="0" y="928" width="1627" height="1"/>
<rect x="1627" y="50" width="2" height="1"/>
<rect x="1627" y="83" width="2" height="1"/>
<rect x="1627" y="116" width="2" height="1"/>
<rect x="1627" y="149" width="2" height="1"/>
<rect x="1627" y="182" width="2" height="1"/>
<rect x="1627" y="215" width="2" height="1"/>
<rect x="1627" y="248" width="2" height="1"/>
<rect x="1627" y="281" width="2" height="1"/>
<rect x="1627" y="314" width="2" height="1"/>
<rect x="1627" y="347" width="2" height="1"/>
<rect x="1627" y="413" width="2" height="1"/>
<rect x="1627" y="446" width="2" height="1"/>
<rect x="1627" y="479" width="2" height="1"/>
<rect x="1627" y="512" width="2" height="1"/>
<rect x="1627" y="545" width="2" height="1"/>
<rect x="1627" y="578" width="2" height="1"/>
<rect x="1627" y="585" width="1" height="1"/><rect x="1627" y="658" width="2" height="1"/><rect x="1627" y="764" width="1" height="1"/>
<rect x="1627" y="770" width="1" height="1"/><rect x="1627" y="801" width="2" height="1"/><rect x="1627" y="848" width="2" height="1"/><rect x="1627" y="904" width="2" height="1"/><rect x="1627" y="926" width="1" height="1"/>
<rect x="-2" y="929" width="1" height="3"/>
<rect x="62" y="929" width="1" height="3"/>
<rect x="126" y="929" width="1" height="3"/>
<rect x="190" y="929" width="1" height="3"/>
<rect x="254" y="929" width="1" height="3"/>
<rect x="318" y="929" width="1" height="3"/>
<rect x="382" y="929" width="1" height="3"/>
<rect x="446" y="929" width="1" height="3"/>
<rect x="510" y="929" width="1" height="3"/>
<rect x="574" y="929" width="1" height="3"/>
<rect x="638" y="929" width="1" height="3"/>
<rect x="702" y="929" width="1" height="3"/>
<rect x="766" y="929" width="1" height="3"/>
<rect x="830" y="929" width="1" height="3"/>
<rect x="894" y="929" width="1" height="3"/>
<rect x="958" y="929" width="1" height="3"/>
<rect x="1022" y="929" width="1" height="3"/>
<rect x="1086" y="929" width="1" height="3"/>
<rect x="1150" y="929" width="1" height="3"/>
<rect x="1214" y="929" width="1" height="3"/>
<rect x="1278" y="929" width="1" height="3"/>
</g>
<rect class="c" x="1626" y="341" width="2" height="2" fill="#ff4500"/>
<rect class="c" x="1626" y="359" width="2" height="2" fill="#ff4500"/>
<rect class="c" x="1626" y="402" width="2" height="2" fill="#28c828"/>
<rect class="c" x="1626" y="422" width="2" height="2" fill="#0000ff"/>
<rect class="c" x="1626" y="438" width="2" height="2" fill="#0000ff"/>
<rect class="c" x="1626" y="380" width="2" height="1" fill="#c0c0c0"/>
<polygon points="1343,29 1353,29 1348,34" fill="#c0c0c0"/>
<text class="ax" x="1632.5" y="54" textLength="33" lengthAdjust="spacingAndGlyphs">1.33935</text>
<text class="ax" x="1632.5" y="87" textLength="33" lengthAdjust="spacingAndGlyphs">1.33035</text>
<text class="ax" x="1632.5" y="120" textLength="33" lengthAdjust="spacingAndGlyphs">1.32110</text>
<text class="ax" x="1632.5" y="153" textLength="33" lengthAdjust="spacingAndGlyphs">1.31185</text>
<text class="ax" x="1632.5" y="186" textLength="33" lengthAdjust="spacingAndGlyphs">1.30285</text>
<text class="ax" x="1632.5" y="219" textLength="33" lengthAdjust="spacingAndGlyphs">1.29360</text>
<text class="ax" x="1632.5" y="252" textLength="33" lengthAdjust="spacingAndGlyphs">1.28435</text>
<text class="ax" x="1632.5" y="285" textLength="33" lengthAdjust="spacingAndGlyphs">1.27535</text>
<text class="ax" x="1632.5" y="318" textLength="33" lengthAdjust="spacingAndGlyphs">1.26610</text>
<text class="ax" x="1632.5" y="351" textLength="33" lengthAdjust="spacingAndGlyphs">1.25685</text>
<text class="ax" x="1632.5" y="417" textLength="33" lengthAdjust="spacingAndGlyphs">1.23860</text>
<text class="ax" x="1632.5" y="450" textLength="33" lengthAdjust="spacingAndGlyphs">1.22935</text>
<text class="ax" x="1632.5" y="483" textLength="33" lengthAdjust="spacingAndGlyphs">1.22035</text>
<text class="ax" x="1632.5" y="516" textLength="33" lengthAdjust="spacingAndGlyphs">1.21110</text>
<text class="ax" x="1632.5" y="549" textLength="33" lengthAdjust="spacingAndGlyphs">1.20185</text>
<text class="ax" x="1632.5" y="582" textLength="33" lengthAdjust="spacingAndGlyphs">1.19285</text>
<rect class="c" x="1628" y="336" width="41" height="11" fill="#ff4500"/><text class="ax" x="1632.5" y="345" style="fill:#fff" textLength="33" lengthAdjust="spacingAndGlyphs">1.25834</text>
<rect class="c" x="1628" y="354" width="41" height="11" fill="#ff4500"/><text class="ax" x="1632.5" y="363" style="fill:#fff" textLength="33" lengthAdjust="spacingAndGlyphs">1.25336</text>
<rect class="c" x="1628" y="397" width="41" height="11" fill="#32cd32"/><text class="ax" x="1632.5" y="406" style="fill:#fff" textLength="33" lengthAdjust="spacingAndGlyphs">1.24144</text>
<rect class="c" x="1628" y="417" width="41" height="11" fill="#0000ff"/><text class="ax" x="1632.5" y="426" style="fill:#fff" textLength="33" lengthAdjust="spacingAndGlyphs">1.23589</text>
<rect class="c" x="1628" y="433" width="41" height="11" fill="#0000ff"/><text class="ax" x="1632.5" y="442" style="fill:#fff" textLength="33" lengthAdjust="spacingAndGlyphs">1.23152</text>
<rect class="c" x="1628" y="375" width="41" height="11" fill="#000"/><text class="ax" x="1632.5" y="384" style="fill:#fff" textLength="33" lengthAdjust="spacingAndGlyphs">1.24783</text>
<text class="ax" x="1630" y="594" textLength="38" lengthAdjust="spacingAndGlyphs">0.008954</text>
<text class="ax" transform="translate(1630,662) scale(0.95,1)">0.00</text>
<text class="ax" x="1628.5" y="763" textLength="41" lengthAdjust="spacingAndGlyphs">-0.012957</text>
<text class="ax" transform="translate(1630,779) scale(0.95,1)">100</text>
<text class="ax" transform="translate(1630,805) scale(0.95,1)">80</text>
<text class="ax" transform="translate(1630,852) scale(0.95,1)">50</text>
<text class="ax" transform="translate(1630,908) scale(0.95,1)">15</text>
<text class="ax" transform="translate(1630,925) scale(0.95,1)">0</text>
<g class="c">
<rect x="6" y="593" width="1" height="66" fill="#c0c0c0"/>
<rect x="14" y="597" width="1" height="62" fill="#c0c0c0"/>
<rect x="22" y="601" width="1" height="58" fill="#c0c0c0"/>
<rect x="30" y="603" width="1" height="56" fill="#c0c0c0"/>
<rect x="38" y="612" width="1" height="47" fill="#c0c0c0"/>
<rect x="46" y="624" width="1" height="35" fill="#c0c0c0"/>
<rect x="54" y="636" width="1" height="23" fill="#c0c0c0"/>
<rect x="62" y="628" width="1" height="31" fill="#c0c0c0"/>
<rect x="70" y="635" width="1" height="24" fill="#c0c0c0"/>
<rect x="78" y="625" width="1" height="34" fill="#c0c0c0"/>
<rect x="86" y="620" width="1" height="39" fill="#c0c0c0"/>
<rect x="94" y="615" width="1" height="44" fill="#c0c0c0"/>
<rect x="102" y="611" width="1" height="48" fill="#c0c0c0"/>
<rect x="110" y="610" width="1" height="49" fill="#c0c0c0"/>
<rect x="118" y="610" width="1" height="49" fill="#c0c0c0"/>
<rect x="126" y="614" width="1" height="45" fill="#c0c0c0"/>
<rect x="134" y="623" width="1" height="36" fill="#c0c0c0"/>
<rect x="142" y="625" width="1" height="34" fill="#c0c0c0"/>
<rect x="150" y="628" width="1" height="31" fill="#c0c0c0"/>
<rect x="158" y="630" width="1" height="29" fill="#c0c0c0"/>
<rect x="166" y="631" width="1" height="28" fill="#c0c0c0"/>
<rect x="174" y="637" width="1" height="22" fill="#c0c0c0"/>
<rect x="182" y="648" width="1" height="11" fill="#c0c0c0"/>
<rect x="190" y="658" width="1" height="1" fill="#c0c0c0"/>
<rect x="198" y="658" width="1" height="10" fill="#c0c0c0"/>
<rect x="206" y="658" width="1" height="13" fill="#c0c0c0"/>
<rect x="214" y="658" width="1" height="11" fill="#c0c0c0"/>
<rect x="222" y="658" width="1" height="7" fill="#c0c0c0"/>
<rect x="230" y="658" width="1" height="10" fill="#c0c0c0"/>
<rect x="238" y="658" width="1" height="16" fill="#c0c0c0"/>
<rect x="246" y="658" width="1" height="19" fill="#c0c0c0"/>
<rect x="254" y="658" width="1" height="20" fill="#c0c0c0"/>
<rect x="262" y="658" width="1" height="21" fill="#c0c0c0"/>
<rect x="270" y="658" width="1" height="18" fill="#c0c0c0"/>
<rect x="278" y="658" width="1" height="18" fill="#c0c0c0"/>
<rect x="286" y="658" width="1" height="16" fill="#c0c0c0"/>
<rect x="294" y="658" width="1" height="16" fill="#c0c0c0"/>
<rect x="302" y="658" width="1" height="14" fill="#c0c0c0"/>
<rect x="310" y="658" width="1" height="16" fill="#c0c0c0"/>
<rect x="318" y="658" width="1" height="18" fill="#c0c0c0"/>
<rect x="326" y="658" width="1" height="22" fill="#c0c0c0"/>
<rect x="334" y="658" width="1" height="25" fill="#c0c0c0"/>
<rect x="342" y="658" width="1" height="28" fill="#c0c0c0"/>
<rect x="350" y="658" width="1" height="32" fill="#c0c0c0"/>
<rect x="358" y="658" width="1" height="38" fill="#c0c0c0"/>
<rect x="366" y="658" width="1" height="42" fill="#c0c0c0"/>
<rect x="374" y="658" width="1" height="43" fill="#c0c0c0"/>
<rect x="382" y="658" width="1" height="44" fill="#c0c0c0"/>
<rect x="390" y="658" width="1" height="43" fill="#c0c0c0"/>
<rect x="398" y="658" width="1" height="35" fill="#c0c0c0"/>
<rect x="406" y="658" width="1" height="27" fill="#c0c0c0"/>
<rect x="414" y="658" width="1" height="22" fill="#c0c0c0"/>
<rect x="422" y="658" width="1" height="9" fill="#c0c0c0"/>
<rect x="430" y="658" width="1" height="1" fill="#c0c0c0"/>
<rect x="438" y="655" width="1" height="4" fill="#c0c0c0"/>
<rect x="446" y="654" width="1" height="5" fill="#c0c0c0"/>
<rect x="454" y="658" width="1" height="1" fill="#c0c0c0"/>
<rect x="462" y="658" width="1" height="1" fill="#c0c0c0"/>
<rect x="470" y="658" width="1" height="2" fill="#c0c0c0"/>
<rect x="478" y="658" width="1" height="4" fill="#c0c0c0"/>
<rect x="486" y="658" width="1" height="9" fill="#c0c0c0"/>
<rect x="494" y="658" width="1" height="16" fill="#c0c0c0"/>
<rect x="502" y="658" width="1" height="25" fill="#c0c0c0"/>
<rect x="510" y="658" width="1" height="34" fill="#c0c0c0"/>
<rect x="518" y="658" width="1" height="47" fill="#c0c0c0"/>
<rect x="526" y="658" width="1" height="56" fill="#c0c0c0"/>
<rect x="534" y="658" width="1" height="62" fill="#c0c0c0"/>
<rect x="542" y="658" width="1" height="68" fill="#c0c0c0"/>
<rect x="550" y="658" width="1" height="75" fill="#c0c0c0"/>
<rect x="558" y="658" width="1" height="79" fill="#c0c0c0"/>
<rect x="566" y="658" width="1" height="78" fill="#c0c0c0"/>
<rect x="574" y="658" width="1" height="76" fill="#c0c0c0"/>
<rect x="582" y="658" width="1" height="76" fill="#c0c0c0"/>
<rect x="590" y="658" width="1" height="77" fill="#c0c0c0"/>
<rect x="598" y="658" width="1" height="79" fill="#c0c0c0"/>
<rect x="606" y="658" width="1" height="81" fill="#c0c0c0"/>
<rect x="614" y="658" width="1" height="79" fill="#c0c0c0"/>
<rect x="622" y="658" width="1" height="77" fill="#c0c0c0"/>
<rect x="630" y="658" width="1" height="73" fill="#c0c0c0"/>
<rect x="638" y="658" width="1" height="66" fill="#c0c0c0"/>
<rect x="646" y="658" width="1" height="61" fill="#c0c0c0"/>
<rect x="654" y="658" width="1" height="56" fill="#c0c0c0"/>
<rect x="662" y="658" width="1" height="49" fill="#c0c0c0"/>
<rect x="670" y="658" width="1" height="43" fill="#c0c0c0"/>
<rect x="678" y="658" width="1" height="41" fill="#c0c0c0"/>
<rect x="686" y="658" width="1" height="36" fill="#c0c0c0"/>
<rect x="694" y="658" width="1" height="34" fill="#c0c0c0"/>
<rect x="702" y="658" width="1" height="33" fill="#c0c0c0"/>
<rect x="710" y="658" width="1" height="38" fill="#c0c0c0"/>
<rect x="718" y="658" width="1" height="42" fill="#c0c0c0"/>
<rect x="726" y="658" width="1" height="46" fill="#c0c0c0"/>
<rect x="734" y="658" width="1" height="48" fill="#c0c0c0"/>
<rect x="742" y="658" width="1" height="43" fill="#c0c0c0"/>
<rect x="750" y="658" width="1" height="36" fill="#c0c0c0"/>
<rect x="758" y="658" width="1" height="27" fill="#c0c0c0"/>
<rect x="766" y="658" width="1" height="19" fill="#c0c0c0"/>
<rect x="774" y="658" width="1" height="14" fill="#c0c0c0"/>
<rect x="782" y="658" width="1" height="11" fill="#c0c0c0"/>
<rect x="790" y="658" width="1" height="11" fill="#c0c0c0"/>
<rect x="798" y="658" width="1" height="11" fill="#c0c0c0"/>
<rect x="806" y="658" width="1" height="9" fill="#c0c0c0"/>
<rect x="814" y="658" width="1" height="8" fill="#c0c0c0"/>
<rect x="822" y="658" width="1" height="10" fill="#c0c0c0"/>
<rect x="830" y="658" width="1" height="14" fill="#c0c0c0"/>
<rect x="838" y="658" width="1" height="20" fill="#c0c0c0"/>
<rect x="846" y="658" width="1" height="23" fill="#c0c0c0"/>
<rect x="854" y="658" width="1" height="29" fill="#c0c0c0"/>
<rect x="862" y="658" width="1" height="34" fill="#c0c0c0"/>
<rect x="870" y="658" width="1" height="38" fill="#c0c0c0"/>
<rect x="878" y="658" width="1" height="44" fill="#c0c0c0"/>
<rect x="886" y="658" width="1" height="45" fill="#c0c0c0"/>
<rect x="894" y="658" width="1" height="45" fill="#c0c0c0"/>
<rect x="902" y="658" width="1" height="41" fill="#c0c0c0"/>
<rect x="910" y="658" width="1" height="38" fill="#c0c0c0"/>
<rect x="918" y="658" width="1" height="38" fill="#c0c0c0"/>
<rect x="926" y="658" width="1" height="44" fill="#c0c0c0"/>
<rect x="934" y="658" width="1" height="47" fill="#c0c0c0"/>
<rect x="942" y="658" width="1" height="42" fill="#c0c0c0"/>
<rect x="950" y="658" width="1" height="41" fill="#c0c0c0"/>
<rect x="958" y="658" width="1" height="38" fill="#c0c0c0"/>
<rect x="966" y="658" width="1" height="38" fill="#c0c0c0"/>
<rect x="974" y="658" width="1" height="40" fill="#c0c0c0"/>
<rect x="982" y="658" width="1" height="38" fill="#c0c0c0"/>
<rect x="990" y="658" width="1" height="38" fill="#c0c0c0"/>
<rect x="998" y="658" width="1" height="42" fill="#c0c0c0"/>
<rect x="1006" y="658" width="1" height="46" fill="#c0c0c0"/>
<rect x="1014" y="658" width="1" height="58" fill="#c0c0c0"/>
<rect x="1022" y="658" width="1" height="71" fill="#c0c0c0"/>
<rect x="1030" y="658" width="1" height="81" fill="#c0c0c0"/>
<rect x="1038" y="658" width="1" height="90" fill="#c0c0c0"/>
<rect x="1046" y="658" width="1" height="93" fill="#c0c0c0"/>
<rect x="1054" y="658" width="1" height="95" fill="#c0c0c0"/>
<rect x="1062" y="658" width="1" height="96" fill="#c0c0c0"/>
<rect x="1070" y="658" width="1" height="94" fill="#c0c0c0"/>
<rect x="1078" y="658" width="1" height="93" fill="#c0c0c0"/>
<rect x="1086" y="658" width="1" height="93" fill="#c0c0c0"/>
<rect x="1094" y="658" width="1" height="95" fill="#c0c0c0"/>
<rect x="1102" y="658" width="1" height="99" fill="#c0c0c0"/>
<rect x="1110" y="658" width="1" height="97" fill="#c0c0c0"/>
<rect x="1118" y="658" width="1" height="96" fill="#c0c0c0"/>
<rect x="1126" y="658" width="1" height="95" fill="#c0c0c0"/>
<rect x="1134" y="658" width="1" height="89" fill="#c0c0c0"/>
<rect x="1142" y="658" width="1" height="80" fill="#c0c0c0"/>
<rect x="1150" y="658" width="1" height="72" fill="#c0c0c0"/>
<rect x="1158" y="658" width="1" height="67" fill="#c0c0c0"/>
<rect x="1166" y="658" width="1" height="60" fill="#c0c0c0"/>
<rect x="1174" y="658" width="1" height="55" fill="#c0c0c0"/>
<rect x="1182" y="658" width="1" height="44" fill="#c0c0c0"/>
<rect x="1190" y="658" width="1" height="31" fill="#c0c0c0"/>
<rect x="1198" y="658" width="1" height="23" fill="#c0c0c0"/>
<rect x="1206" y="658" width="1" height="19" fill="#c0c0c0"/>
<rect x="1214" y="658" width="1" height="12" fill="#c0c0c0"/>
<rect x="1222" y="658" width="1" height="10" fill="#c0c0c0"/>
<rect x="1230" y="658" width="1" height="11" fill="#c0c0c0"/>
<rect x="1238" y="658" width="1" height="14" fill="#c0c0c0"/>
<rect x="1246" y="658" width="1" height="15" fill="#c0c0c0"/>
<rect x="1254" y="658" width="1" height="22" fill="#c0c0c0"/>
<rect x="1262" y="658" width="1" height="26" fill="#c0c0c0"/>
<rect x="1270" y="658" width="1" height="18" fill="#c0c0c0"/>
<rect x="1278" y="658" width="1" height="7" fill="#c0c0c0"/>
<rect x="1286" y="658" width="1" height="1" fill="#c0c0c0"/>
<rect x="1294" y="654" width="1" height="5" fill="#c0c0c0"/>
<rect x="1302" y="646" width="1" height="13" fill="#c0c0c0"/>
<rect x="1310" y="640" width="1" height="19" fill="#c0c0c0"/>
<rect x="1318" y="636" width="1" height="23" fill="#c0c0c0"/>
<rect x="1326" y="634" width="1" height="25" fill="#c0c0c0"/>
<rect x="1334" y="623" width="1" height="36" fill="#c0c0c0"/>
<polyline fill="none" stroke="#ff0000" stroke-width="0.8" stroke-dasharray="3 3" points="0.0,622.7 6.0,618.6 14.2,612.5 22.4,606.4 30.5,603.4 40.7,601.3 48.8,602.8 58.9,608.0 69.1,612.5 81.3,618.2 89.4,620.7 101.6,622.3 113.8,621.7 126.0,618.2 138.2,617.2 150.4,616.6 162.6,618.0 174.8,622.1 182.9,626.3 191.1,632.8 203.3,640.4 215.4,648.5 227.6,655.2 239.8,662.7 252.0,669.0 262.2,672.5 274.4,673.9 288.6,675.5 304.9,676.5 325.2,677.0 342.2,678.6 358.5,681.6 370.7,686.1 382.8,690.8 391.0,693.8 401.1,695.4 411.3,694.8 419.4,693.4 429.6,687.1 439.8,681.6 452.0,673.5 464.1,666.8 476.3,662.3 486.5,660.7 496.7,661.7 508.9,667.4 521.1,675.5 533.3,686.1 545.4,697.9 557.6,709.5 569.8,718.2 582.0,726.3 594.2,731.4 606.4,734.9 618.6,736.5 630.8,735.5 643.0,733.5 655.2,729.8 660.0,728.4 672.2,722.3 684.4,715.8 696.6,708.0 708.8,702.0 718.9,699.5 741.3,698.3 761.6,695.9 779.9,691.4 792.1,686.1 804.3,679.6 816.5,673.5 830.7,670.4 842.9,670.9 861.2,674.5 873.4,680.6 885.6,686.7 899.8,693.4 914.1,695.9 924.2,698.5 940.5,701.1 952.7,700.5 960.8,699.5 1000.2,699.5 1008.3,698.3 1018.5,702.0 1030.7,708.7 1042.8,718.2 1055.0,727.4 1067.2,736.9 1079.4,744.6 1091.6,749.7 1103.8,752.8 1116.0,753.8 1128.2,753.4 1140.4,751.7 1152.6,747.7 1164.8,743.6 1177.0,735.1 1189.2,726.3 1201.4,714.1 1213.6,702.0 1225.8,691.4 1238.0,681.6 1248.1,677.6 1258.3,675.5 1265.9,674.6 1271.8,674.1 1277.7,673.3 1283.6,672.3 1289.5,671.4 1295.4,670.1 1301.3,667.6 1307.2,665.5 1313.5,662.8 1319.4,659.6 1325.3,655.2 1331.6,650.1 1333.0,649.0"/>
</g>
<text class="ax" x="2" y="596" textLength="148" lengthAdjust="spacingAndGlyphs">MACD(12,26,9) 0.004441 0.001335</text>
<g class="c">
<line x1="0" y1="801.5" x2="1626" y2="801.5" stroke="#c0c0c0" stroke-width="1" stroke-dasharray="3 3"/>
<line x1="0" y1="848.5" x2="1626" y2="848.5" stroke="#c0c0c0" stroke-width="1" stroke-dasharray="3 3"/>
<line x1="0" y1="904.5" x2="1626" y2="904.5" stroke="#c0c0c0" stroke-width="1" stroke-dasharray="3 3"/>
<polyline fill="none" stroke="#0074ff" stroke-width="0.8"  points="-1.5,829.5 6.5,827.1 14.5,835.9 22.5,839.3 30.5,836.3 38.5,848.1 46.5,856.0 54.5,859.6 62.5,834.2 70.5,850.5 78.5,835.3 86.5,837.7 94.5,836.3 102.5,835.3 110.5,838.3 118.5,838.3 126.5,844.0 134.5,851.5 142.5,844.4 150.5,844.4 158.5,844.4 166.5,844.4 174.5,849.9 182.5,860.0 190.5,864.3 198.5,862.7 206.5,857.2 214.5,850.5 222.5,844.4 230.5,855.2 238.5,859.2 246.5,858.2 254.5,855.6 262.5,856.6 270.5,850.5 278.5,855.6 286.5,852.5 294.5,851.5 302.5,849.1 310.5,856.0 318.5,857.2 326.5,864.3 334.5,862.3 342.5,864.3 350.5,868.4 358.5,873.3 366.5,874.5 374.5,867.4 382.5,868.4 390.5,865.3 398.5,845.4 406.5,843.4 414.5,846.4 422.5,829.2 430.5,831.2 438.5,840.3 446.5,845.4 454.5,854.6 462.5,854.6 470.5,854.6 478.5,854.6 486.5,861.7 494.5,868.8 502.5,875.9 510.5,881.0 518.5,886.5 526.5,885.5 534.5,885.5 542.5,887.5 550.5,891.6 558.5,891.6 566.5,878.5 574.5,876.5 582.5,880.4 590.5,883.4 598.5,886.5 606.5,888.5 614.5,880.4 622.5,879.4 630.5,873.3 638.5,862.3 646.5,865.3 654.5,863.3 662.5,852.1 670.5,856.2 678.5,862.3 686.5,854.6 694.5,860.3 702.5,862.3 710.5,876.5 718.5,873.5 726.5,880.4 734.5,874.5 742.5,856.2 750.5,846.4 758.5,842.4 766.5,840.3 774.5,842.4 782.5,851.5 790.5,850.5 798.5,854.6 806.5,848.5 814.5,850.5 822.5,859.6 830.5,866.3 838.5,868.4 846.5,868.4 854.5,876.5 862.5,876.5 870.5,877.5 878.5,884.6 886.5,871.4 894.5,868.4 902.5,856.2 910.5,856.2 918.5,865.3 926.5,878.5 934.5,873.9 942.5,853.5 950.5,859.6 958.5,857.2 966.5,862.3 974.5,866.3 982.5,858.0 990.5,861.7 998.5,870.4 1006.5,871.4 1014.5,884.4 1022.5,888.5 1030.5,888.5 1038.5,890.5 1046.5,883.4 1054.5,884.4 1062.5,883.4 1070.5,880.4 1078.5,882.4 1086.5,882.4 1094.5,889.5 1102.5,892.6 1110.5,879.4 1118.5,880.4 1126.5,881.4 1134.5,873.3 1142.5,861.7 1150.5,860.3 1158.5,864.3 1166.5,857.2 1174.5,862.3 1182.5,842.4 1190.5,837.7 1198.5,842.4 1206.5,848.5 1214.5,840.3 1222.5,849.5 1230.5,854.2 1238.5,858.2 1246.5,857.2 1254.5,868.4 1262.5,863.7 1270.5,842.3 1278.5,834.4 1286.5,839.5 1294.5,840.6 1302.5,833.4 1310.5,832.5 1318.5,836.6 1326.5,837.4 1334.5,823.2"/>
</g>
<text class="ax" x="2" y="781" textLength="68" lengthAdjust="spacingAndGlyphs">RSI(14) 66.9218</text>
<g clip-path="url(#cd)">
<text class="ax" transform="translate(-3,941) scale(0.94,1)">1 Mar 2019</text>
<text class="ax" transform="translate(61,941) scale(0.94,1)">11 Mar 2019</text>
<text class="ax" transform="translate(125,941) scale(0.94,1)">20 Mar 2019</text>
<text class="ax" transform="translate(189,941) scale(0.94,1)">29 Mar 2019</text>
<text class="ax" transform="translate(253,941) scale(0.94,1)">8 Apr 2019</text>
<text class="ax" transform="translate(317,941) scale(0.94,1)">17 Apr 2019</text>
<text class="ax" transform="translate(381,941) scale(0.94,1)">28 Apr 2019</text>
<text class="ax" transform="translate(445,941) scale(0.94,1)">7 May 2019</text>
<text class="ax" transform="translate(509,941) scale(0.94,1)">16 May 2019</text>
<text class="ax" transform="translate(573,941) scale(0.94,1)">26 May 2019</text>
<text class="ax" transform="translate(637,941) scale(0.94,1)">4 Jun 2019</text>
<text class="ax" transform="translate(701,941) scale(0.94,1)">13 Jun 2019</text>
<text class="ax" transform="translate(765,941) scale(0.94,1)">23 Jun 2019</text>
<text class="ax" transform="translate(829,941) scale(0.94,1)">2 Jul 2019</text>
<text class="ax" transform="translate(893,941) scale(0.94,1)">11 Jul 2019</text>
<text class="ax" transform="translate(957,941) scale(0.94,1)">21 Jul 2019</text>
<text class="ax" transform="translate(1021,941) scale(0.94,1)">30 Jul 2019</text>
<text class="ax" transform="translate(1085,941) scale(0.94,1)">8 Aug 2019</text>
<text class="ax" transform="translate(1149,941) scale(0.94,1)">18 Aug 2019</text>
<text class="ax" transform="translate(1213,941) scale(0.94,1)">27 Aug 2019</text>
<text class="ax" transform="translate(1277,941) scale(0.94,1)">5 Sep 2019</text>
</g>
<polygon class="c" points="1,39 8,39 4.5,35" fill="#000"/>
<text class="ax" x="13" y="40" textLength="66.3" lengthAdjust="spacingAndGlyphs">GBPUSD-,Daily</text>
<text class="ax" x="86" y="40" textLength="141" lengthAdjust="spacingAndGlyphs">1.23286 1.24817 1.23258 1.24783</text>
<g class="c">
<rect x="0" y="46" width="221" height="68" fill="#fff"/>
<path d="M1,48 H53 V72 H110 V112 H1 Z" fill="url(#pg)"/>
<path d="M168,48 H220 V112 H112 V72 H168 Z" fill="url(#pg)"/>
<path d="M1.5,48.5 H52.5 V72.5 H109.5 V111.5 H1.5 Z" fill="none" stroke="#0000a0" stroke-width="1"/>
<path d="M168.5,48.5 H219.5 V111.5 H112.5 V72.5 H168.5 Z" fill="none" stroke="#0000a0" stroke-width="1"/>
<rect x="5" y="71" width="44" height="1" fill="#10109c"/><rect x="5" y="72" width="44" height="1" fill="#7a7aff"/>
<rect x="172" y="71" width="44" height="1" fill="#10109c"/><rect x="172" y="72" width="44" height="1" fill="#7a7aff"/>
<rect x="55.5" y="48.5" width="110" height="21" fill="#fff" stroke="#adadad"/>
<rect x="56" y="49" width="20" height="20" fill="#e9e9e9"/><rect x="76" y="49" width="1" height="20" fill="#adadad"/>
<rect x="145" y="49" width="20" height="20" fill="#e9e9e9"/><rect x="144" y="49" width="1" height="20" fill="#adadad"/>
<polygon points="63,57 69,57 66,60.5" fill="#000"/><polygon points="151.5,60 157.5,60 154.5,56.5" fill="#000"/>
</g>
<text x="13.5" y="64" font-size="12.4px" fill="#fff" textLength="25.5" lengthAdjust="spacingAndGlyphs">SELL</text>
<text x="181.5" y="64" font-size="12.4px" fill="#fff" textLength="23" lengthAdjust="spacingAndGlyphs">BUY</text>
<text x="118" y="63" font-size="12px" fill="#000" textLength="22.5" lengthAdjust="spacingAndGlyphs">1.00</text>
<text x="21.5" y="103" font-size="12.3px" font-weight="700" fill="#fff" textLength="24" lengthAdjust="spacingAndGlyphs">1.24</text>
<text x="49" y="103" font-size="33px" fill="#fff" textLength="34.5" lengthAdjust="spacingAndGlyphs">78</text>
<text x="88.3" y="86.7" font-size="12px" font-weight="700" fill="#fff">3</text>
<text x="132" y="103" font-size="12.3px" font-weight="700" fill="#fff" textLength="23.5" lengthAdjust="spacingAndGlyphs">1.24</text>
<text x="160" y="103" font-size="33px" fill="#fff" textLength="34.5" lengthAdjust="spacingAndGlyphs">80</text>
<text x="199.3" y="86.7" font-size="12px" font-weight="700" fill="#fff">8</text>
<g class="c"><rect x="0" y="0" width="1673" height="24" fill="#f0f0f0"/><rect x="0" y="24" width="1673" height="1" fill="#a8a8a8"/><rect x="0" y="25" width="1673" height="1" fill="#6e6e6e"/>
<rect x="223" y="0" width="1" height="24" fill="#a0a0a0"/><rect x="224" y="0" width="1" height="24" fill="#fff"/>
<rect x="591" y="0" width="1" height="24" fill="#a0a0a0"/><rect x="592" y="0" width="1" height="24" fill="#fff"/>
<rect x="897" y="0" width="1" height="24" fill="#a0a0a0"/><rect x="898" y="0" width="1" height="24" fill="#fff"/>
<rect x="1158" y="0" width="1" height="24" fill="#a0a0a0"/><rect x="1159" y="0" width="1" height="24" fill="#fff"/>
<rect x="318" y="1" width="1" height="21" fill="#a0a0a0"/>
<rect x="408" y="1" width="1" height="21" fill="#a0a0a0"/>
<rect x="470" y="1" width="1" height="21" fill="#a0a0a0"/>
<rect x="658" y="1" width="1" height="21" fill="#a0a0a0"/>
<rect x="227" y="2" width="3" height="1" fill="#a0a0a0"/>
<rect x="227" y="4" width="3" height="1" fill="#a0a0a0"/>
<rect x="227" y="6" width="3" height="1" fill="#a0a0a0"/>
<rect x="227" y="8" width="3" height="1" fill="#a0a0a0"/>
<rect x="227" y="10" width="3" height="1" fill="#a0a0a0"/>
<rect x="227" y="12" width="3" height="1" fill="#a0a0a0"/>
<rect x="227" y="14" width="3" height="1" fill="#a0a0a0"/>
<rect x="227" y="16" width="3" height="1" fill="#a0a0a0"/>
<rect x="227" y="18" width="3" height="1" fill="#a0a0a0"/>
<rect x="227" y="20" width="3" height="1" fill="#a0a0a0"/>
<rect x="595" y="2" width="3" height="1" fill="#a0a0a0"/>
<rect x="595" y="4" width="3" height="1" fill="#a0a0a0"/>
<rect x="595" y="6" width="3" height="1" fill="#a0a0a0"/>
<rect x="595" y="8" width="3" height="1" fill="#a0a0a0"/>
<rect x="595" y="10" width="3" height="1" fill="#a0a0a0"/>
<rect x="595" y="12" width="3" height="1" fill="#a0a0a0"/>
<rect x="595" y="14" width="3" height="1" fill="#a0a0a0"/>
<rect x="595" y="16" width="3" height="1" fill="#a0a0a0"/>
<rect x="595" y="18" width="3" height="1" fill="#a0a0a0"/>
<rect x="595" y="20" width="3" height="1" fill="#a0a0a0"/>
<rect x="901" y="2" width="3" height="1" fill="#a0a0a0"/>
<rect x="901" y="4" width="3" height="1" fill="#a0a0a0"/>
<rect x="901" y="6" width="3" height="1" fill="#a0a0a0"/>
<rect x="901" y="8" width="3" height="1" fill="#a0a0a0"/>
<rect x="901" y="10" width="3" height="1" fill="#a0a0a0"/>
<rect x="901" y="12" width="3" height="1" fill="#a0a0a0"/>
<rect x="901" y="14" width="3" height="1" fill="#a0a0a0"/>
<rect x="901" y="16" width="3" height="1" fill="#a0a0a0"/>
<rect x="901" y="18" width="3" height="1" fill="#a0a0a0"/>
<rect x="901" y="20" width="3" height="1" fill="#a0a0a0"/>
<rect x="261" y="0" width="25" height="23" fill="#f9f9f9"/><rect x="261" y="0" width="25" height="1" fill="#a0a0a0"/><rect x="261" y="0" width="1" height="22" fill="#a0a0a0"/><rect x="261" y="22" width="25" height="1" fill="#fff"/><rect x="285" y="1" width="1" height="22" fill="#fff"/>
<rect x="413" y="0" width="25" height="23" fill="#f9f9f9"/><rect x="413" y="0" width="25" height="1" fill="#a0a0a0"/><rect x="413" y="0" width="1" height="22" fill="#a0a0a0"/><rect x="413" y="22" width="25" height="1" fill="#fff"/><rect x="437" y="1" width="1" height="22" fill="#fff"/>
<rect x="441" y="0" width="25" height="23" fill="#f9f9f9"/><rect x="441" y="0" width="25" height="1" fill="#a0a0a0"/><rect x="441" y="0" width="1" height="22" fill="#a0a0a0"/><rect x="441" y="22" width="25" height="1" fill="#fff"/><rect x="465" y="1" width="1" height="22" fill="#fff"/>
<rect x="601" y="0" width="25" height="23" fill="#f9f9f9"/><rect x="601" y="0" width="25" height="1" fill="#a0a0a0"/><rect x="601" y="0" width="1" height="22" fill="#a0a0a0"/><rect x="601" y="22" width="25" height="1" fill="#fff"/><rect x="625" y="1" width="1" height="22" fill="#fff"/>
<rect x="1075" y="0" width="25" height="23" fill="#f9f9f9"/><rect x="1075" y="0" width="25" height="1" fill="#a0a0a0"/><rect x="1075" y="0" width="1" height="22" fill="#a0a0a0"/><rect x="1075" y="22" width="25" height="1" fill="#fff"/><rect x="1099" y="1" width="1" height="22" fill="#fff"/>
<rect x="241" y="7" width="1" height="13" fill="#505050"/><rect x="239" y="17" width="13" height="1" fill="#505050"/>
<rect x="240" y="8" width="3" height="1" fill="#505050"/><rect x="251" y="16" width="1" height="3" fill="#505050"/>
<rect x="241" y="6" width="1" height="1" fill="#505050"/><rect x="252" y="17" width="1" height="1" fill="#505050"/>
<rect x="269" y="7" width="1" height="13" fill="#505050"/><rect x="267" y="17" width="13" height="1" fill="#505050"/>
<rect x="268" y="8" width="3" height="1" fill="#505050"/><rect x="279" y="16" width="1" height="3" fill="#505050"/>
<rect x="269" y="6" width="1" height="1" fill="#505050"/><rect x="280" y="17" width="1" height="1" fill="#505050"/>
<rect x="297" y="7" width="1" height="13" fill="#505050"/><rect x="295" y="17" width="13" height="1" fill="#505050"/>
<rect x="296" y="8" width="3" height="1" fill="#505050"/><rect x="307" y="16" width="1" height="3" fill="#505050"/>
<rect x="297" y="6" width="1" height="1" fill="#505050"/><rect x="308" y="17" width="1" height="1" fill="#505050"/>
<rect x="421" y="7" width="1" height="13" fill="#505050"/><rect x="419" y="17" width="13" height="1" fill="#505050"/>
<rect x="420" y="8" width="3" height="1" fill="#505050"/><rect x="431" y="16" width="1" height="3" fill="#505050"/>
<rect x="421" y="6" width="1" height="1" fill="#505050"/><rect x="432" y="17" width="1" height="1" fill="#505050"/>
<rect x="449" y="7" width="1" height="13" fill="#505050"/><rect x="447" y="17" width="13" height="1" fill="#505050"/>
<rect x="448" y="8" width="3" height="1" fill="#505050"/><rect x="459" y="16" width="1" height="3" fill="#505050"/>
<rect x="449" y="6" width="1" height="1" fill="#505050"/><rect x="460" y="17" width="1" height="1" fill="#505050"/>
<rect x="247" y="7" width="1" height="9" fill="#0a9a0a"/><rect x="247" y="8" width="3" height="1" fill="#0a9a0a"/><rect x="245" y="14" width="3" height="1" fill="#0a9a0a"/>
<rect x="275" y="4" width="1" height="12" fill="#0a8a0a"/><rect x="273.5" y="6.5" width="4" height="7" fill="#3ee03e" stroke="#0a9a0a"/>
<rect x="455" y="6" width="1" height="10" fill="#1a6ab0"/><rect x="457" y="11" width="4" height="1" fill="#d04000"/><rect x="457" y="10" width="2" height="3" fill="#d04000"/><rect x="458" y="9" width="1" height="5" fill="#d04000"/>
<rect x="675" y="6" width="1" height="13" fill="#505050"/><rect x="698" y="12" width="12" height="1" fill="#505050"/>
<rect x="641" y="5" width="1" height="6" fill="#505050"/><rect x="641" y="14" width="1" height="6" fill="#505050"/><rect x="634" y="12" width="6" height="1" fill="#505050"/><rect x="643" y="12" width="6" height="1" fill="#505050"/><rect x="641" y="12" width="1" height="1" fill="#505050"/>
<rect x="781" y="5" width="1" height="1" fill="#505050"/>
<rect x="783" y="5" width="1" height="1" fill="#505050"/>
<rect x="785" y="5" width="1" height="1" fill="#505050"/>
<rect x="787" y="5" width="1" height="1" fill="#505050"/>
<rect x="789" y="5" width="1" height="1" fill="#505050"/>
<rect x="791" y="5" width="1" height="1" fill="#505050"/>
<rect x="793" y="5" width="1" height="1" fill="#505050"/>
<rect x="781" y="8" width="1" height="1" fill="#505050"/>
<rect x="783" y="8" width="1" height="1" fill="#505050"/>
<rect x="785" y="8" width="1" height="1" fill="#505050"/>
<rect x="787" y="8" width="1" height="1" fill="#505050"/>
<rect x="789" y="8" width="1" height="1" fill="#505050"/>
<rect x="791" y="8" width="1" height="1" fill="#505050"/>
<rect x="793" y="8" width="1" height="1" fill="#505050"/>
<rect x="781" y="12" width="1" height="1" fill="#505050"/>
<rect x="783" y="12" width="1" height="1" fill="#505050"/>
<rect x="785" y="12" width="1" height="1" fill="#505050"/>
<rect x="787" y="12" width="1" height="1" fill="#505050"/>
<rect x="789" y="12" width="1" height="1" fill="#505050"/>
<rect x="791" y="12" width="1" height="1" fill="#505050"/>
<rect x="793" y="12" width="1" height="1" fill="#505050"/>
<rect x="781" y="16" width="1" height="1" fill="#505050"/>
<rect x="783" y="16" width="1" height="1" fill="#505050"/>
<rect x="785" y="16" width="1" height="1" fill="#505050"/>
<rect x="787" y="16" width="1" height="1" fill="#505050"/>
<rect x="789" y="16" width="1" height="1" fill="#505050"/>
<rect x="838" y="6" width="1" height="1" fill="#505050"/><rect x="838" y="18" width="1" height="1" fill="#505050"/>
<rect x="840" y="6" width="1" height="1" fill="#505050"/><rect x="840" y="18" width="1" height="1" fill="#505050"/>
<rect x="842" y="6" width="1" height="1" fill="#505050"/><rect x="842" y="18" width="1" height="1" fill="#505050"/>
<rect x="844" y="6" width="1" height="1" fill="#505050"/><rect x="844" y="18" width="1" height="1" fill="#505050"/>
<rect x="846" y="6" width="1" height="1" fill="#505050"/><rect x="846" y="18" width="1" height="1" fill="#505050"/>
<rect x="848" y="6" width="1" height="1" fill="#505050"/><rect x="848" y="18" width="1" height="1" fill="#505050"/>
<rect x="838" y="6" width="1" height="1" fill="#505050"/><rect x="849" y="6" width="1" height="1" fill="#505050"/>
<rect x="838" y="8" width="1" height="1" fill="#505050"/><rect x="849" y="8" width="1" height="1" fill="#505050"/>
<rect x="838" y="10" width="1" height="1" fill="#505050"/><rect x="849" y="10" width="1" height="1" fill="#505050"/>
<rect x="838" y="12" width="1" height="1" fill="#505050"/><rect x="849" y="12" width="1" height="1" fill="#505050"/>
<rect x="838" y="14" width="1" height="1" fill="#505050"/><rect x="849" y="14" width="1" height="1" fill="#505050"/>
<rect x="838" y="16" width="1" height="1" fill="#505050"/><rect x="849" y="16" width="1" height="1" fill="#505050"/>
<rect x="838" y="18" width="1" height="1" fill="#505050"/><rect x="849" y="18" width="1" height="1" fill="#505050"/>
<rect x="840" y="9" width="8" height="2" fill="#505050"/><rect x="843" y="9" width="2" height="8" fill="#505050"/>
<rect x="557.5" y="5.5" width="15" height="13" fill="#fff" stroke="#3a6ac0"/><rect x="558" y="6" width="14" height="2" fill="#5a8ae0"/><rect x="558" y="12" width="14" height="1" fill="#3a6ac0"/>
<rect x="383" y="4" width="8" height="8" fill="#3a9c1a"/><rect x="391" y="4" width="8" height="8" fill="#1a4ac8"/><rect x="383" y="12" width="8" height="8" fill="#1a4ac8"/><rect x="391" y="12" width="8" height="8" fill="#3a9c1a"/>
<rect x="384" y="7" width="6" height="4" fill="#fff"/><rect x="392" y="7" width="6" height="4" fill="#fff"/><rect x="384" y="15" width="6" height="4" fill="#fff"/><rect x="392" y="15" width="6" height="4" fill="#fff"/>
<rect x="385" y="8" width="4" height="1" fill="#9ad08a"/><rect x="393" y="8" width="4" height="1" fill="#8aa8e8"/><rect x="385" y="16" width="4" height="1" fill="#8aa8e8"/><rect x="393" y="16" width="4" height="1" fill="#9ad08a"/>
</g>
<polygon class="c" points="502,11 507,11 504.5,14" fill="#000"/>
<polygon class="c" points="541,11 546,11 543.5,14" fill="#000"/>
<polygon class="c" points="580,11 585,11 582.5,14" fill="#000"/>
<polygon class="c" points="886,11 891,11 888.5,14" fill="#000"/>
<g>
<path d="M-2.5,4.5 h8 l3,3 v10 h-11 z" fill="#fdfdfd" stroke="#9a9a9a" stroke-width="1"/>
<path d="M5.5,4.5 v3 h3" fill="none" stroke="#9a9a9a" stroke-width="1"/>
<path d="M-0.5,7.5 h5 M-0.5,9.5 h7 M-0.5,11.5 h4" stroke="#8a8a8a" stroke-width="1" fill="none"/>
<path d="M6.0,10.5 h3 v4 h4 v3 h-4 v4 h-3 v-4 h-4 v-3 h4 z" fill="#2fd42f" stroke="#0a8f0a" stroke-width="1"/>
<path d="M480.5,4.5 h8 l3,3 v10 h-11 z" fill="#fdfdfd" stroke="#9a9a9a" stroke-width="1"/>
<path d="M488.5,4.5 v3 h3" fill="none" stroke="#9a9a9a" stroke-width="1"/>
<path d="M482.5,7.5 h5 M482.5,9.5 h7 M482.5,11.5 h4" stroke="#8a8a8a" stroke-width="1" fill="none"/>
<path d="M489.0,10.5 h3 v4 h4 v3 h-4 v4 h-3 v-4 h-4 v-3 h4 z" fill="#2fd42f" stroke="#0a8f0a" stroke-width="1"/>
</g>
<defs><linearGradient id="bk" x1="0" y1="0" x2="1" y2="1"><stop offset="0" stop-color="#fde66a"/><stop offset="0.6" stop-color="#e9b72a"/><stop offset="1" stop-color="#c8890f"/></linearGradient></defs>
<polygon points="69.6,5 79.7,12.6 72.6,19.8 63.9,13.4" fill="url(#bk)" stroke="#b8801a" stroke-width="0.8"/><path d="M64.3,14 L72.6,19.6 L79.5,13" fill="none" stroke="#a06a12" stroke-width="1.6"/><path d="M68.2,8.2 L66.2,12.8" stroke="#fff6b0" stroke-width="1"/>
<polygon points="94.8,5.5 99,4.3 105,5.2 105,14 94.8,14" fill="#2a8cf0" stroke="#1a62c8" stroke-width="0.8"/><polygon points="98.2,5.6 105,5.2 105,14 98.2,14" fill="#7cc4fa"/><rect x="99.2" y="7.2" width="4.6" height="1.2" fill="#f2f9ff"/><rect x="99.2" y="9.6" width="4.6" height="1" fill="#d8ecff"/>
<path d="M95,19.2 a3.2,3.2 0 0 1 -0.2,-6.2 a3.6,3.6 0 0 1 6.4,-0.9 a3,3 0 0 1 4.4,1.7 a2.7,2.7 0 0 1 -0.2,5.4 z" fill="#eef3fb" stroke="#5f7fc0" stroke-width="1"/>
<circle cx="127.7" cy="12" r="7.3" fill="none" stroke="#5a8ad0" stroke-width="1.2" opacity="0.8"/><circle cx="127.7" cy="12" r="4.3" fill="none" stroke="#5a8ad0" stroke-width="1.2"/><path d="M127.7,4.7 a7.3,7.3 0 0 1 0,14.6" fill="none" stroke="#4aa84a" stroke-width="1.3"/><path d="M127.7,7.7 a4.3,4.3 0 0 1 0,8.6" fill="none" stroke="#4aa84a" stroke-width="1.3"/><circle cx="127.7" cy="12" r="1.8" fill="#2a5ad0"/><rect x="127.2" y="12" width="1.2" height="8" fill="#2a9a2a"/>
<polygon points="148,11 163,11 156,19.5 152,18" fill="#f0d040" stroke="#c8a020" stroke-width="0.8"/><ellipse cx="155" cy="9.5" rx="8" ry="2.6" fill="#5ab0e0" stroke="#2a80c0" stroke-width="0.8"/><ellipse cx="155" cy="7.5" rx="4.2" ry="3.2" fill="#6ac0f0" stroke="#2a80c0" stroke-width="0.8"/><circle cx="159.5" cy="15.9" r="4" fill="#e02010"/><rect x="158" y="14.4" width="3" height="3" fill="#fff"/>
<text x="15.8" y="14.6" font-size="12px" fill="#000">新订单</text>
<text x="169" y="14.6" font-size="12px" fill="#000">自动交易</text>
<path d="M296,14.5 Q300,11 302,9.2 Q305,11 308,13.3" fill="none" stroke="#2a9a2a" stroke-width="1.2"/>
<line x1="336.8" y1="14.2" x2="341.6" y2="18.8" stroke="#d0a820" stroke-width="3"/>
<circle cx="333.0" cy="10" r="5.4" fill="#dcf2ff" stroke="#3a7ac8" stroke-width="1.3"/>
<rect x="330.0" y="9" width="6" height="2" fill="#3a80b0"/>
<rect x="332.0" y="7" width="2" height="6" fill="#3a80b0"/>
<line x1="364.8" y1="14.2" x2="369.6" y2="18.8" stroke="#d0a820" stroke-width="3"/>
<circle cx="361.0" cy="10" r="5.4" fill="#dcf2ff" stroke="#3a7ac8" stroke-width="1.3"/>
<rect x="358.0" y="9" width="6" height="2" fill="#3a80b0"/>
<polygon points="426.5,8 426.5,15 430,11.5" fill="#7ee07e" stroke="#0a9a0a" stroke-width="1"/>
<circle cx="526" cy="12" r="6.9" fill="#fff" stroke="#1a6acc" stroke-width="2"/><path d="M526,8 V12.3 H529" fill="none" stroke="#303030" stroke-width="1.2"/>
<path d="M559,10.5 l3,-1 l2,1 l3,-1.5 l2,1 l2,-1" fill="none" stroke="#a02010" stroke-width="1.2"/><path d="M559,16.5 l3,-1 l2,1 l3,-2 l3,2.5" fill="none" stroke="#1a8a2a" stroke-width="1.2"/>
<polygon points="609,5 609,16 611.7,13.6 614,18.8 616,17.9 613.7,12.9 617.2,12.6" fill="#505050"/>
<line x1="726" y1="18.7" x2="738" y2="6.7" stroke="#505050" stroke-width="1.1"/>
<path d="M752,13.7 L760,6.4 M752.6,18 L765.6,10 M754,17 L755,12 L757,16 L759,10.5 L761,14 L763,5 L764,11" fill="none" stroke="#505050" stroke-width="1"/>
<text x="762.6" y="20.6" font-size="6.5px" font-weight="700" fill="#303030">E</text><text x="790.4" y="20.6" font-size="6.5px" font-weight="700" fill="#303030">F</text>
<text x="811.2" y="16.8" font-size="12.2px" font-weight="700" fill="#505050">A</text>
<polygon points="865,10.4 868.5,6 872,10.4" fill="#505050"/><polygon points="872,14.4 879,14.4 875.5,19" fill="#505050"/><path d="M867.5,13.5 L869.7,15.7 L873.6,10.4" fill="none" stroke="#505050" stroke-width="1.2"/>
<text class="tb" x="912.6" y="15.8" textLength="12.8" lengthAdjust="spacingAndGlyphs">M1</text>
<text class="tb" x="940.3" y="15.8" textLength="13.0" lengthAdjust="spacingAndGlyphs">M5</text>
<text class="tb" x="966.5" y="15.8" textLength="17.8" lengthAdjust="spacingAndGlyphs">M15</text>
<text class="tb" x="994.5" y="15.8" textLength="17.9" lengthAdjust="spacingAndGlyphs">M30</text>
<text class="tb" x="1025.5" y="15.8" textLength="11.8" lengthAdjust="spacingAndGlyphs">H1</text>
<text class="tb" x="1052.6" y="15.8" textLength="12.4" lengthAdjust="spacingAndGlyphs">H4</text>
<text class="tb" x="1081.4" y="15.8" textLength="12.1" lengthAdjust="spacingAndGlyphs">D1</text>
<text class="tb" x="1109.0" y="15.8" textLength="14.4" lengthAdjust="spacingAndGlyphs">W1</text>
<text class="tb" x="1135.3" y="15.8" textLength="15.3" lengthAdjust="spacingAndGlyphs">MN</text>
<line x1="1626" y1="11.8" x2="1621.3" y2="16.6" stroke="#2a5ad0" stroke-width="2.2"/><circle cx="1628.6" cy="9.2" r="3.8" fill="#fdfdff" stroke="#2a62d8" stroke-width="1.3"/>
<ellipse cx="1661.3" cy="9.2" rx="6.3" ry="4.8" fill="#f8f8fa" stroke="#8c8c8c" stroke-width="1.2"/><polygon points="1663,13.2 1665,15.6 1665.3,13" fill="#8a8a8a"/><ellipse cx="1652.3" cy="12.9" rx="5" ry="3.9" fill="#f2f2f8" stroke="#8c8c8c" stroke-width="1.2"/><polygon points="1649.5,16 1649.3,18.6 1651.6,16.4" fill="#8a8a8a"/>
<rect class="c" x="1672" y="26" width="1" height="924" fill="#e3e3e3"/><rect class="c" x="0" y="948" width="1673" height="2" fill="#e9e9e9"/>
</svg></body></html>
